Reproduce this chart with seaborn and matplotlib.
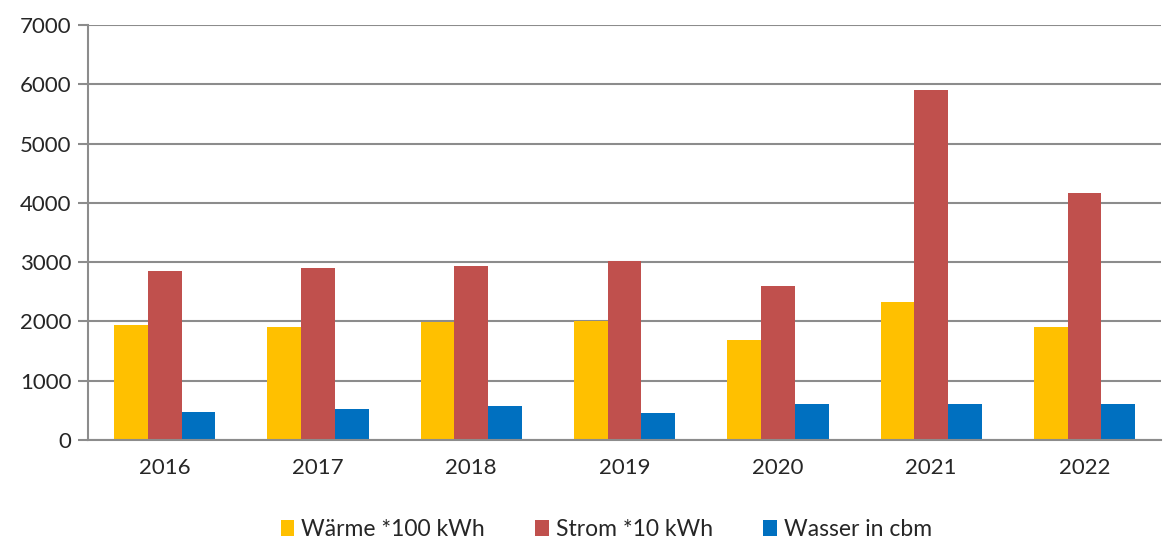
import matplotlib.pyplot as plt
import pandas as pd
import seaborn as sns
from matplotlib.ticker import FixedLocator

# values
years = ['2016', '2017', '2018', '2019', '2020', '2021', '2022']
waerme = [1940, 1910, 1980, 2000, 1680, 2320, 1900]
strom = [2855, 2895, 2925, 3025, 2595, 5900, 4165]
wasser = [475, 515, 565, 450, 600, 600, 600]

series_names = ['Wärme *100 kWh', 'Strom *10 kWh', 'Wasser in cbm']
colors = ['#FFC000', '#C0504D', '#0070C0']

# long format for seaborn
df = pd.DataFrame({
    'year': years * 3,
    'value': waerme + strom + wasser,
    'series': [series_names[0]] * 7 + [series_names[1]] * 7 + [series_names[2]] * 7,
})

sns.set_style('white')
plt.rcParams['font.family'] = ['Lato', 'DejaVu Sans']

fig = plt.figure(figsize=(11.64, 5.43), dpi=100)
ax = fig.add_axes([0.0756, 0.19, 0.922, 0.764])

sns.barplot(data=df, x='year', y='value', hue='series', palette=colors,
            width=0.66, saturation=1, linewidth=0, ax=ax, legend=True)

ax.set_ylim(0, 7000)
ax.set_xlim(-0.5, 6.5)
ax.set_yticks(range(0, 7001, 1000))
ax.yaxis.grid(True, color='#8C8C8C', linewidth=1.5)
ax.set_axisbelow(True)
ax.set_xlabel('')
ax.set_ylabel('')

for s in ['top', 'right']:
    ax.spines[s].set_visible(False)
for s in ['left', 'bottom']:
    ax.spines[s].set_color('#8C8C8C')
    ax.spines[s].set_linewidth(1.5)

# ticks between the year groups
ax.xaxis.set_minor_locator(FixedLocator([i - 0.5 for i in range(8)]))
ax.tick_params(axis='x', which='major', length=0, labelsize=16, pad=13)
ax.tick_params(axis='x', which='minor', length=7, width=1.5, color='#8C8C8C', direction='out')
ax.tick_params(axis='y', which='major', length=7, width=1.5, color='#8C8C8C', labelsize=16, left=True, pad=5)

ax.legend(loc='center', bbox_to_anchor=(0.483, -0.217), ncol=3, frameon=False,
          fontsize=16.5, handlelength=0.6, handleheight=0.7, columnspacing=2.2, handletextpad=0.3,
          borderpad=0, borderaxespad=0)

fig.savefig('out.png', dpi=100)
